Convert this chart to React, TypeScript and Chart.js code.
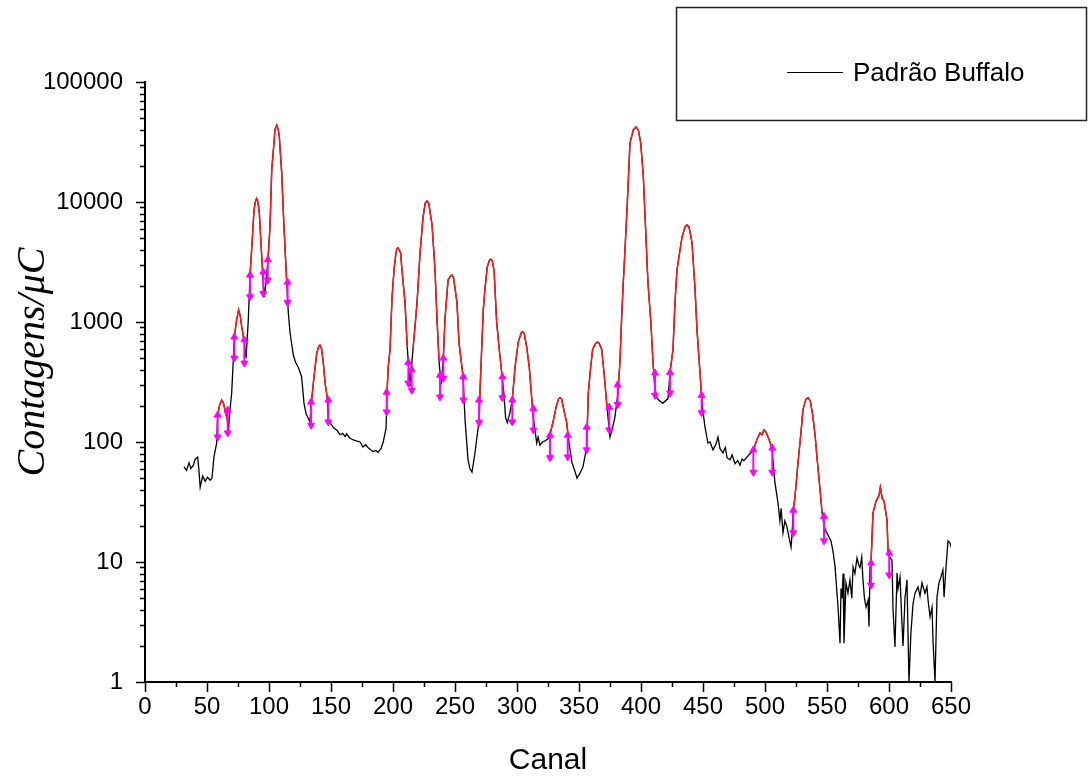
import React, { useEffect, useRef } from 'react';
import { Chart, registerables } from 'chart.js';

Chart.register(...registerables);

// ---- Data ----
const spectrumChannels = [
  31.5, 33.5, 35.5, 37, 39, 40.5, 42.5, 43.5, 44.5, 46.5, 48.5, 50.5, 52.5, 54, 55.6, 57.8,
  58.6, 60, 61.8, 63.3, 64.5, 66.4, 67.2, 68, 69.9, 71.2, 72, 73.9, 75.5, 77, 78, 79.8,
  81.5, 83.3, 84.7, 86, 87.9, 89, 90, 91, 92.2, 93.5, 94.9, 96.2, 97.5, 99, 100.8, 102.2, 104,
  104.8, 106.2, 107.5, 108.3, 110.2, 112.1, 114.2, 115.6, 117, 119.6, 121.5, 123.6, 126.3, 128.2,
  130, 131.7, 133, 134.4, 136.3, 138.5, 140, 141.1, 142.4, 143.8, 145.2, 147, 147.8, 150.5, 152.5,
  154.6, 157.3, 159.5, 161.3, 162.6, 165, 168, 170.5, 173.4, 175.8, 178, 179.8, 182, 183.9, 186,
  187.9, 190.3, 192, 194.4, 195.2, 196.2, 197.6, 199.2, 200.8, 202.4, 203.1, 204, 205, 206.2,
  207, 209.7, 211.5, 213.7, 216.1, 219.4, 221.8, 224.2, 226, 227.4, 228.8, 231.5, 233.9, 235.5,
  237.1, 238.7, 240.5, 241.9, 244.4, 246.4, 247.6, 248.8, 251.6, 253.2, 256.5, 258.1, 260.5, 262,
  263.7, 266.1, 267.7, 269.4, 270.2, 271.5, 272.8, 274.2, 276, 277.7, 278.8, 280, 281.5, 283.6,
  285.7, 287.7, 289.5, 290.8, 292.2, 294, 296.2, 298.4, 301, 303.4, 304.6, 305.9, 307.8, 309.9,
  311.8, 313.1, 315.9, 317, 318.5, 320.5, 322.6, 325.2, 326.6, 329.3, 331.5, 333.5, 334.7, 336,
  337.3, 340.1, 341.1, 342.5, 344.4, 346.5, 348.4, 350.8, 353.2, 356.2, 357.5, 359.4, 361, 363.5,
  364.8, 366.2, 368.3, 370.2, 372.8, 375, 377, 379, 381.2, 383, 384.4, 385.7, 387.1, 389, 391.1,
  393.8, 396, 397.8, 399.8, 401.9, 404, 405.6, 408, 409.7, 411.3, 412.9, 415, 417.7, 421.8, 423.4,
  425.8, 427.4, 429, 431.5, 433.1, 435.5, 437.1, 438.7, 441.1, 443.5, 445.2, 447.6, 449.2, 451.6,
  454, 455.6, 458.1, 460.5, 462.1, 463.7, 466.1, 468, 469.4, 471.8, 473.5, 475.8, 478, 479.8,
  481.5, 483, 485.5, 487.9, 489.5, 490.6, 492, 494, 496, 497.5, 499.2, 501, 502.4, 504, 505.6,
  508, 510.5, 512, 513, 514.5, 516, 517.7, 519.4, 521, 521.8, 522.8, 524.2, 526.6, 529, 530.6,
  533, 534.7, 536.5, 538.7, 540.5, 541.9, 544.4, 546, 547.6, 549.2, 550.8, 553.2, 555, 556.5,
  558.9, 560.5, 561.3, 562.1, 563, 563.7, 565.3, 566.9, 568.5, 570, 571, 572.5, 574.2, 575.5,
  576.6, 578, 579, 580.2, 581.5, 583.1, 583.9, 584.7, 585.5, 587.1, 589.5, 592, 593, 594.5, 596,
  598.4, 599.2, 600.2, 602.4, 603.2, 604.8, 606.5, 607.3, 608.9, 610.2, 611.3, 612.9, 614.5, 616.1,
  617.7, 619.4, 621, 623.4, 625, 626.6, 629, 630.6, 631.5, 633.1, 634.7, 635.5, 637.1, 638.7,
  640.3, 641.9, 643.5, 644.4, 646, 647.6, 649.2, 650.8, 652,
];

const spectrumCounts = [
  62, 58, 67, 60, 64, 72, 75, 58, 42, 52, 47, 51, 48, 50, 75, 98,
  168, 200, 224, 210, 184, 153, 119, 162, 256, 480, 750, 1040, 1260, 1100, 910, 710,
  500, 1040, 2460, 4000, 8500, 10100, 10700, 10100, 8100, 4600, 2560, 1620, 2100, 3100, 6200, 18500, 31000,
  40000, 43600, 40000, 35000, 17800, 6200, 2240, 1190, 810, 530, 460, 420, 350, 211,
  170, 158, 147, 224, 350, 550, 620, 640, 600, 455, 310, 233, 153, 138, 130,
  126, 115, 118, 111, 117, 108, 104, 102, 100, 91, 95, 90, 86, 83, 85,
  82, 88, 99, 130, 260, 425, 590, 1580, 2700, 3800, 4050, 4150, 4000, 3760,
  2890, 1450, 620, 290, 590, 1450, 3760, 7400, 9800, 10200, 9800, 6440, 2700, 1050,
  480, 300, 480, 1050, 2240, 2420, 2460, 2350, 1450, 680, 350, 153, 71, 60,
  56, 81, 110, 150, 270, 590, 1260, 1900, 2870, 3250, 3340, 3250, 2700, 1000,
  590, 376, 250, 160, 145, 170, 224, 420, 680, 810, 830, 800, 620, 420,
  237, 160, 98, 110, 94, 100, 102, 107, 115, 151, 195, 228, 234, 228,
  195, 145, 115, 90, 67, 58, 50, 55, 62, 90, 256, 420, 590, 665,
  680, 665, 590, 376, 185, 110, 130, 162, 245, 455, 1100, 2130, 4000, 10000, 31000,
  40000, 42200, 40000, 31000, 16200, 5100, 2140, 980, 455, 280, 233, 220, 211, 230, 380,
  590, 1450, 2700, 4000, 5100, 6200, 6440, 6200, 4600, 1950, 850, 376, 210, 133,
  98, 100, 86, 96, 110, 88, 81, 90, 74, 71, 78, 66, 70, 64,
  72, 70, 75, 80, 83, 86, 95, 108, 119, 115, 126, 120, 110, 100, 88,
  46, 31, 22, 28, 17.5, 22, 19.6, 16, 13.3, 17, 27, 35, 67, 119, 186,
  228, 234, 220, 162, 110, 75, 40, 26, 20, 18, 16.8, 15, 12, 9.1,
  4.2, 2.1, 6, 5, 8, 2.1, 6.7, 5.5, 7.1, 5, 9.1, 8, 10.8, 9.5,
  9, 11, 7.1, 5, 4.2, 4.8, 2.9, 9.1, 9.8, 25.7, 32, 36, 42, 34, 32,
  22.4, 12.6, 11, 10.4, 4.2, 1.96, 8.1, 6, 7.5, 3.5, 2.0, 5, 7.1, 1.0,
  2.6, 4.5, 5.5, 6.2, 5.2, 6.7, 5.5, 6.2, 4.8, 3.5, 4.2, 2.2, 1.0, 5.1,
  6.7, 7.5, 8.6, 5.1, 9.1, 15, 14.4, 12.6, 13,
];

// Fitted peak regions (start / end channel) drawn in red
const fitStarts = [58.6, 72, 84.7, 99, 134.4, 195.2, 216.1, 240.5, 269.4, 296.2, 326.6, 356.2, 381.2, 423.4, 490.6, 522.8, 585.5];
const fitEnds = [66.4, 79.8, 94.9, 114.2, 147, 211.5, 237.1, 256.5, 287.7, 313.1, 341.1, 372.8, 411.3, 449.2, 505.6, 546, 599.2];

// Region markers (magenta): channel, upper and lower counts
const markerChannels = [58.6, 66.7, 72, 80.1, 84.7, 95.4, 99, 115, 133.9, 147.8, 194.9, 212.4, 215.1, 237.9, 240.6, 256.7, 269.4, 288.2, 296.2, 313.2, 326.6, 340.9, 356.2, 374.4, 381.2, 411.3, 423.4, 448.9, 490.6, 505.9, 522.8, 547.6, 585.5, 600.2];
const markerTops = [168, 184, 750, 710, 2460, 2610, 3300, 2150, 215, 224, 260, 460, 400, 360, 500, 350, 224, 350, 224, 190, 114, 114, 133, 195, 300, 376, 380, 245, 86, 89, 27, 24, 9.8, 11.9];
const markerBottoms = [110, 119, 500, 455, 1620, 1730, 2240, 1450, 138, 147, 178, 310, 270, 237, 340, 224, 145, 234, 147, 126, 74, 75, 86, 126, 205, 245, 256, 175, 56, 56, 17.5, 15, 6.4, 7.8];

const xTickValues = [0, 50, 100, 150, 200, 250, 300, 350, 400, 450, 500, 550, 600, 650];
const yTickValues = [1, 10, 100, 1000, 10000, 100000];

const legendLabel = 'Padrão Buffalo';
const xTitle = 'Canal';
const yTitle = 'Contagens/μC';

// ---- Build datasets ----
const spectrumPoints = spectrumChannels.map((c, i) => ({ x: c, y: spectrumCounts[i] }));

const fitPoints: { x: number; y: number | null }[] = [];
fitStarts.forEach((s, k) => {
  const e = fitEnds[k];
  spectrumPoints.forEach((p) => {
    if (p.x >= s - 0.01 && p.x <= e + 0.01) fitPoints.push({ x: p.x, y: p.y });
  });
  fitPoints.push({ x: e, y: null });
});

const markerPoints: { x: number; y: number | null }[] = [];
markerChannels.forEach((c, i) => {
  markerPoints.push({ x: c, y: markerTops[i] });
  markerPoints.push({ x: c, y: markerBottoms[i] });
  markerPoints.push({ x: c, y: null });
});

const SANS = '"Liberation Sans", Arial, sans-serif';

const decorPlugin = {
  id: 'decor',
  afterDraw(chart: any) {
    const { ctx, chartArea, scales } = chart;
    const xs = scales.x;
    const ys = scales.y;
    const L = chartArea.left;
    const B = chartArea.bottom;
    ctx.save();
    ctx.strokeStyle = '#000';
    ctx.lineWidth = 2;
    // axis lines
    ctx.beginPath();
    ctx.moveTo(L, chartArea.top - 1);
    ctx.lineTo(L, B);
    ctx.lineTo(chartArea.right + 1, B);
    ctx.stroke();
    // y ticks
    ctx.lineWidth = 1.5;
    ctx.beginPath();
    yTickValues.forEach((v, i) => {
      const y = Math.round(ys.getPixelForValue(v)) + 0.5;
      ctx.moveTo(L - 9, y);
      ctx.lineTo(L, y);
      if (i < yTickValues.length - 1) {
        for (let m = 2; m <= 9; m++) {
          const ym = Math.round(ys.getPixelForValue(v * m)) + 0.5;
          ctx.moveTo(L - 5, ym);
          ctx.lineTo(L, ym);
        }
      }
    });
    // x ticks
    xTickValues.forEach((v, i) => {
      const x = Math.round(xs.getPixelForValue(v)) + 0.5;
      ctx.moveTo(x, B);
      ctx.lineTo(x, B + 10);
      if (i < xTickValues.length - 1) {
        const xm = Math.round(xs.getPixelForValue(v + 25)) + 0.5;
        ctx.moveTo(xm, B);
        ctx.lineTo(xm, B + 5);
      }
    });
    ctx.stroke();

    // titles
    ctx.fillStyle = '#000';
    ctx.font = `30px ${SANS}`;
    ctx.textAlign = 'center';
    ctx.textBaseline = 'alphabetic';
    ctx.fillText(xTitle, (chartArea.left + chartArea.right) / 2, 769);

    ctx.save();
    ctx.translate(44, 362);
    ctx.rotate(-Math.PI / 2);
    ctx.font = `italic 40px "Liberation Serif", "Times New Roman", serif`;
    ctx.textAlign = 'center';
    ctx.textBaseline = 'alphabetic';
    ctx.fillText(yTitle, 0, 0);
    ctx.restore();

    // legend box
    ctx.strokeStyle = '#222';
    ctx.lineWidth = 1.5;
    ctx.strokeRect(676.5, 7.5, 410, 113);
    ctx.strokeStyle = '#000';
    ctx.lineWidth = 1;
    ctx.beginPath();
    ctx.moveTo(787, 72.5);
    ctx.lineTo(843, 72.5);
    ctx.stroke();
    ctx.font = `26px ${SANS}`;
    ctx.textAlign = 'left';
    ctx.textBaseline = 'middle';
    ctx.fillText(legendLabel, 853, 74);
    ctx.restore();
  },
};

export default function App() {
  const ref = useRef<HTMLCanvasElement>(null);
  useEffect(() => {
    if (!ref.current) return;
    const chart = new Chart(ref.current, {
      type: 'line',
      data: {
        datasets: [
          {
            label: legendLabel,
            data: spectrumPoints,
            borderColor: '#000',
            borderWidth: 1.3,
            pointRadius: 0,
            tension: 0,
            order: 3,
          },
          {
            label: 'fit',
            data: fitPoints,
            borderColor: '#ff1a1a',
            borderWidth: 1.5,
            pointRadius: 0,
            tension: 0,
            spanGaps: false,
            order: 2,
          },
          {
            label: 'markers',
            data: markerPoints,
            borderColor: '#ff00ff',
            backgroundColor: '#ff00ff',
            borderWidth: 2,
            pointStyle: 'triangle',
            pointRadius: (c: any) => (c.dataIndex % 3 === 2 ? 0 : 4),
            pointRotation: (c: any) => (c.dataIndex % 3 === 0 ? 0 : 180),
            pointBackgroundColor: '#ff00ff',
            pointBorderColor: '#ff00ff',
            pointBorderWidth: 1,
            spanGaps: false,
            order: 1,
          },
        ],
      } as any,
      options: {
        responsive: false,
        animation: false,
        events: [],
        layout: { padding: { left: 0, right: 138, top: 82, bottom: 0 } },
        plugins: { legend: { display: false }, tooltip: { enabled: false } },
        scales: {
          x: {
            type: 'linear',
            min: 0,
            max: 650,
            grid: { display: false, drawTicks: false },
            border: { display: false },
            afterBuildTicks: (s: any) => {
              s.ticks = xTickValues.map((v) => ({ value: v }));
            },
            afterFit: (s: any) => {
              s.height = 96;
            },
            ticks: {
              color: '#000',
              padding: 11,
              maxRotation: 0,
              autoSkip: false,
              font: { family: SANS, size: 24 },
              callback: (v: any) => String(v),
            },
          },
          y: {
            type: 'logarithmic',
            min: 1,
            max: 100000,
            grid: { display: false, drawTicks: false },
            border: { display: false },
            afterBuildTicks: (s: any) => {
              s.ticks = yTickValues.map((v) => ({ value: v }));
            },
            afterFit: (s: any) => {
              s.width = 145;
            },
            ticks: {
              color: '#000',
              padding: 22,
              autoSkip: false,
              font: { family: SANS, size: 24 },
              callback: (v: any) => String(v),
            },
          },
        },
      } as any,
      plugins: [decorPlugin],
    });
    return () => chart.destroy();
  }, []);
  return (
    <div style={{ position: 'fixed', left: 0, top: 0, width: 1089, height: 778, background: '#fff' }}>
      <canvas ref={ref} width={1089} height={778} style={{ display: 'block' }} />
    </div>
  );
}
